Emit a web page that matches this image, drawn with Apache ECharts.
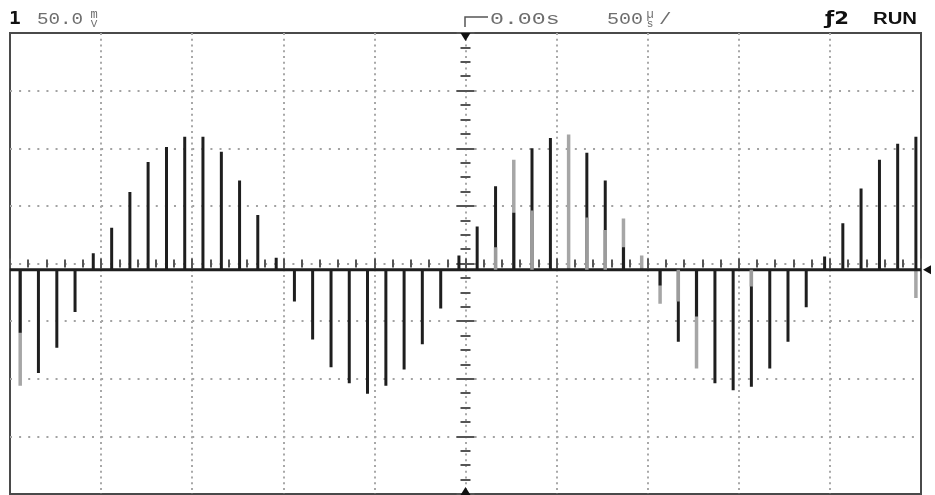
<!DOCTYPE html>
<html lang="en">
<head>
<meta charset="utf-8">
<title>Scope capture - sampled sine</title>
<script src="https://cdn.jsdelivr.net/npm/echarts@6/dist/echarts.min.js"></script>
<style>
  html, body { margin: 0; padding: 0; background: #fff; }
  #scope { width: 935px; height: 495px; }
</style>
</head>
<body>
<div id="scope"></div>
<script>
// pulse times in microseconds (0 = trigger point)
var pulseTimes = [
  -2444, -2344, -2243, -2143, -2043, -1942, -1842, -1742, -1641, -1541,
  -1441, -1340, -1240, -1140, -1039, -939, -839, -738, -638, -538,
  -437, -337, -237, -136, -36, 64, 165, 265, 365, 466,
  566, 666, 767, 867, 967, 1068, 1168, 1268, 1369, 1469,
  1569, 1670, 1770, 1870, 1971, 2071, 2171, 2272, 2372, 2472
];

// dark trace, pulse tops in mV (null = pulse only shows in the faded trace)
var traceMv = [
  -60, -95, -73, -42, 9, 31, 62, 88, 101, 110,
  110, 97, 72, 42, 5, -33, -66, -90, -104, -113,
  -106, -92, -70, -39, 7, 32, 67, 44, 100, 109,
  null, 96, 72, 14, null, -19, -68, -46, -104, -110,
  -107, -91, -68, -38, 6, 35, 65, 90, 104, 110
];

// faded (persistence) pulses, drawn under the dark trace
var fadeMv = [
  -106, null, null, null, null, null, null, null, null, null,
  null, null, null, null, null, null, null, null, null, null,
  null, null, null, null, null, null, null, 90, null, null,
  112, null, null, 39, 7, -35, null, -91, null, null,
  null, null, null, null, null, null, null, null, null, -30
];

// faded parts next to the baseline, drawn over the dark trace
var fadeNearMv = [
  null, null, null, null, null, null, null, null, null, null,
  null, null, null, null, null, null, null, null, null, null,
  null, null, null, null, null, null, 14, null, 46, null,
  null, 40, 29, null, null, null, -33, null, null, null,
  -20, null, null, null, null, null, null, null, null, null
];

var baseMv = -5.5;          // trace ground sits a little under the centre line
var timeRange = [-2500, 2500];  // 500 us/div, 10 div
var voltRange = [-200, 200];    // 50 mV/div, 8 div

function spikes(values, broken) {
  var pts = [];
  for (var i = 0; i < pulseTimes.length; i++) {
    if (values[i] === null) continue;
    pts.push([pulseTimes[i], baseMv]);
    pts.push([pulseTimes[i], values[i]]);
    pts.push([pulseTimes[i], broken ? '-' : baseMv]);
  }
  return pts;
}

var tracePts = [[timeRange[0], baseMv]].concat(spikes(traceMv, false), [[timeRange[1], baseMv]]);

var myChart = echarts.init(document.getElementById('scope'), null, { renderer: 'canvas' });

var gray = '#6e6e6e';
var monoFont = '"Liberation Mono", "DejaVu Sans Mono", monospace';

function centerTicks(len, minorLen, split) {
  return {
    axisTick: { show: true, length: len, lineStyle: { color: '#555', width: 2 } },
    minorTick: { show: true, splitNumber: split, length: minorLen, lineStyle: { color: '#555', width: 2 } }
  };
}

var option = {
  animation: false,
  backgroundColor: '#fff',
  grid: {
    left: 10, top: 33, right: 14, bottom: 1,
    show: true, borderColor: '#4a4a4a', borderWidth: 2, backgroundColor: '#fff'
  },
  xAxis: [
    Object.assign({
      type: 'value', min: timeRange[0], max: timeRange[1], interval: 500,
      position: 'bottom',
      axisLine: { show: false, onZero: true },
      axisLabel: { show: false },
      splitLine: { show: true, showMinLine: false, showMaxLine: false,
        lineStyle: { color: '#a8a8a8', width: 2, type: [2, 3.76] } }
    }, centerTicks(5, 4, 5)),
    Object.assign({
      type: 'value', min: timeRange[0], max: timeRange[1], interval: 500,
      position: 'top',
      axisLine: { show: false, onZero: true },
      axisLabel: { show: false },
      splitLine: { show: false }
    }, centerTicks(5, 4, 5))
  ],
  yAxis: [
    Object.assign({
      type: 'value', min: voltRange[0], max: voltRange[1], interval: 50,
      position: 'left',
      axisLine: { show: false, onZero: true },
      axisLabel: { show: false },
      splitLine: { show: true, showMinLine: false, showMaxLine: false,
        lineStyle: { color: '#a2a2a2', width: 2, type: [2, 7.11] } }
    }, centerTicks(9, 5, 4)),
    Object.assign({
      type: 'value', min: voltRange[0], max: voltRange[1], interval: 50,
      position: 'right',
      axisLine: { show: false, onZero: true },
      axisLabel: { show: false },
      splitLine: { show: false }
    }, centerTicks(9, 5, 4))
  ],
  series: [
    {
      name: 'faded',
      type: 'line',
      z: 2,
      symbol: 'none',
      data: spikes(fadeMv, true),
      lineStyle: { color: '#a6a6a6', width: 3.5 }
    },
    {
      name: 'trace',
      type: 'line',
      z: 3,
      symbol: 'none',
      data: tracePts,
      lineStyle: { color: '#1e1e1e', width: 3 },
      markPoint: {
        silent: true,
        label: { show: false },
        itemStyle: { color: '#111' },
        data: [
          { coord: [0, voltRange[1]], symbol: 'triangle', symbolRotate: 180, symbolSize: [10, 8], symbolOffset: [0, 4] },
          { coord: [0, voltRange[0]], symbol: 'triangle', symbolSize: [10, 8], symbolOffset: [0, -3] },
          { coord: [timeRange[1], baseMv], symbol: 'triangle', symbolRotate: 90, symbolSize: [9, 8], symbolOffset: [6, 0] }
        ]
      }
    },
    {
      name: 'faded near ground',
      type: 'line',
      z: 4,
      symbol: 'none',
      data: spikes(fadeNearMv, true),
      lineStyle: { color: '#9c9c9c', width: 3.5 }
    }
  ],
  graphic: [
    { type: 'text', x: 9, y: 20, scaleX: 1.15,
      style: { text: '1', font: 'bold 17px "DejaVu Sans Mono"', fill: '#111', verticalAlign: 'middle' } },
    { type: 'text', x: 37, y: 20, scaleX: 1.2,
      style: { text: '50.0', font: '16px ' + monoFont, fill: gray, verticalAlign: 'middle' } },
    { type: 'text', x: 94, y: 15, style: { text: 'm', font: '12px ' + monoFont, fill: gray, align: 'center', verticalAlign: 'middle' } },
    { type: 'text', x: 94, y: 24, style: { text: 'V', font: '11px ' + monoFont, fill: gray, align: 'center', verticalAlign: 'middle' } },
    { type: 'polyline', shape: { points: [[465, 27], [465, 17], [488, 17]] },
      style: { stroke: '#555', lineWidth: 1.5, fill: null } },
    { type: 'text', x: 490, y: 20, scaleX: 1.45,
      style: { text: '0.00s', font: '16px ' + monoFont, fill: gray, verticalAlign: 'middle' } },
    { type: 'text', x: 607, y: 20, scaleX: 1.25,
      style: { text: '500', font: '16px ' + monoFont, fill: gray, verticalAlign: 'middle' } },
    { type: 'text', x: 650, y: 15, style: { text: 'µ', font: '12px ' + monoFont, fill: gray, align: 'center', verticalAlign: 'middle' } },
    { type: 'text', x: 650, y: 24, style: { text: 's', font: '11px ' + monoFont, fill: gray, align: 'center', verticalAlign: 'middle' } },
    { type: 'text', x: 659, y: 20, scaleX: 1.3,
      style: { text: '/', font: '16px ' + monoFont, fill: gray, verticalAlign: 'middle' } },
    { type: 'text', x: 825, y: 20, scaleX: 1.25,
      style: { text: 'ƒ2', font: 'bold 17px "DejaVu Sans"', fill: '#111', verticalAlign: 'middle' } },
    { type: 'text', x: 873, y: 20, scaleX: 1.27,
      style: { text: 'RUN', font: 'bold 16px "Liberation Sans"', fill: '#111', verticalAlign: 'middle' } }
  ]
};

myChart.setOption(option);
</script>
</body>
</html>
